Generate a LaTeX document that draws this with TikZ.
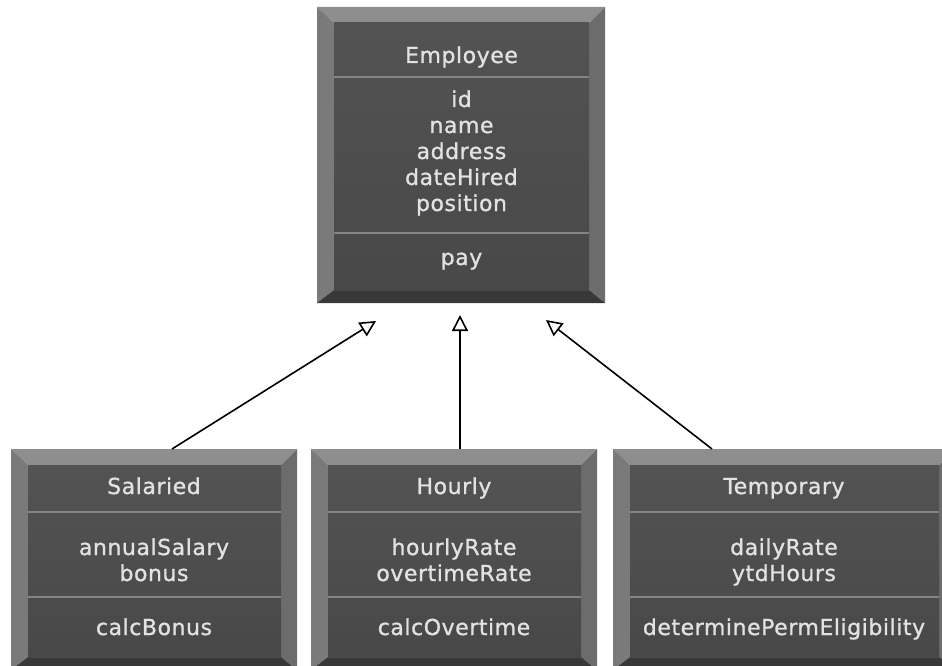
\documentclass[tikz,border=0pt]{standalone}
\usepackage{fontspec}
\newfontfamily\boxfont{DejaVu Sans}[LetterSpace=2.5, FakeBold=1]
\usetikzlibrary{arrows.meta,fit}

\definecolor{bevtop}{HTML}{8E8E8E}
\definecolor{bevleft}{HTML}{7A7A7A}
\definecolor{bevright}{HTML}{6C6C6C}
\definecolor{bevbot}{HTML}{383838}
\definecolor{facetop}{HTML}{535353}
\definecolor{facebot}{HTML}{484848}
\definecolor{sepline}{HTML}{848484}
\definecolor{labeltext}{HTML}{E2E2E2}

\tikzset{
  lbl/.style={anchor=base, inner sep=0pt, text=labeltext,
    font=\boxfont\fontsize{22}{26}\selectfont},
  sepstroke/.style={draw=sepline, line width=2pt},
  inherit/.style={draw=black, line width=1.6pt,
    -{Triangle[open, length=16pt, width=16pt, fill=white]}},
}

% bevelled class box: name, left, top, right, bottom (y grows downwards)
\newcommand\umlbox[5]{%
  \fill[bevtop] (#2,#3) -- (#4,#3) -- ({#4-16},{#3+16}) -- ({#2+17},{#3+16}) -- cycle;
  \fill[bevleft] (#2,#3) -- ({#2+17},{#3+16}) -- ({#2+17},{#5-13}) -- (#2,#5) -- cycle;
  \fill[bevright] (#4,#3) -- (#4,#5) -- ({#4-16},{#5-13}) -- ({#4-16},{#3+16}) -- cycle;
  \fill[bevbot] (#2,#5) -- ({#2+17},{#5-13}) -- ({#4-16},{#5-13}) -- (#4,#5) -- cycle;
  \shade[top color=facetop, bottom color=facebot]
    ({#2+17},{#3+16}) rectangle ({#4-16},{#5-13});
  \node[fit={(#2,#3) (#4,#5)}, inner sep=0pt, outer sep=0pt] (#1) {};
}
% compartment separator: left, right, y
\newcommand\umlsep[3]{%
  \draw[sepstroke] ({#1+17},#3) -- ({#2-16},#3);
}

\begin{document}
\begin{tikzpicture}[x=1pt, y=-1pt]
\useasboundingbox (0,0) rectangle (942,666);
\clip (0,0) rectangle (942,666);
\fill[white] (0,0) rectangle (942,666);

% superclass
\umlbox{emp}{317}{7}{605}{303}
\umlsep{317}{605}{77}
\umlsep{317}{605}{233}
\node[lbl] (emp-name) at (461.5,63) {Employee};
\node[lbl] (emp-a1) at (461.5,107) {id};
\node[lbl] (emp-a2) at (461.5,133) {name};
\node[lbl] (emp-a3) at (461.5,159) {address};
\node[lbl] (emp-a4) at (461.5,185) {dateHired};
\node[lbl] (emp-a5) at (461.5,211) {position};
\node[lbl] (emp-op) at (461.5,265) {pay};

% subclasses
\umlbox{sal}{11}{449}{297}{670}
\umlsep{11}{297}{512}
\umlsep{11}{297}{597}
\node[lbl] (sal-name) at (154,494) {Salaried};
\node[lbl] (sal-a1) at (154,555) {annualSalary};
\node[lbl] (sal-a2) at (154,581) {bonus};
\node[lbl] (sal-op) at (154,635) {calcBonus};

\umlbox{hrl}{311}{449}{597}{670}
\umlsep{311}{597}{512}
\umlsep{311}{597}{597}
\node[lbl] (hrl-name) at (454,494) {Hourly};
\node[lbl] (hrl-a1) at (454,555) {hourlyRate};
\node[lbl] (hrl-a2) at (454,581) {overtimeRate};
\node[lbl] (hrl-op) at (454,635) {calcOvertime};

\umlbox{tmp}{613}{449}{955}{670}
\umlsep{613}{955}{512}
\umlsep{613}{955}{597}
\node[lbl] (tmp-name) at (784,494) {Temporary};
\node[lbl] (tmp-a1) at (784,555) {dailyRate};
\node[lbl] (tmp-a2) at (784,581) {ytdHours};
\node[lbl] (tmp-op) at (784,635) {determinePermEligibility};

% generalisation arrows
\coordinate (tipS) at (376,321);
\coordinate (tipH) at (460,315);
\coordinate (tipT) at (546,320);
\draw[inherit] ([xshift=18pt]sal.north) -- (tipS);
\draw[inherit] ([xshift=6pt]hrl.north) -- (tipH);
\draw[inherit] ([xshift=-72pt]tmp.north) -- (tipT);
\end{tikzpicture}
\end{document}
